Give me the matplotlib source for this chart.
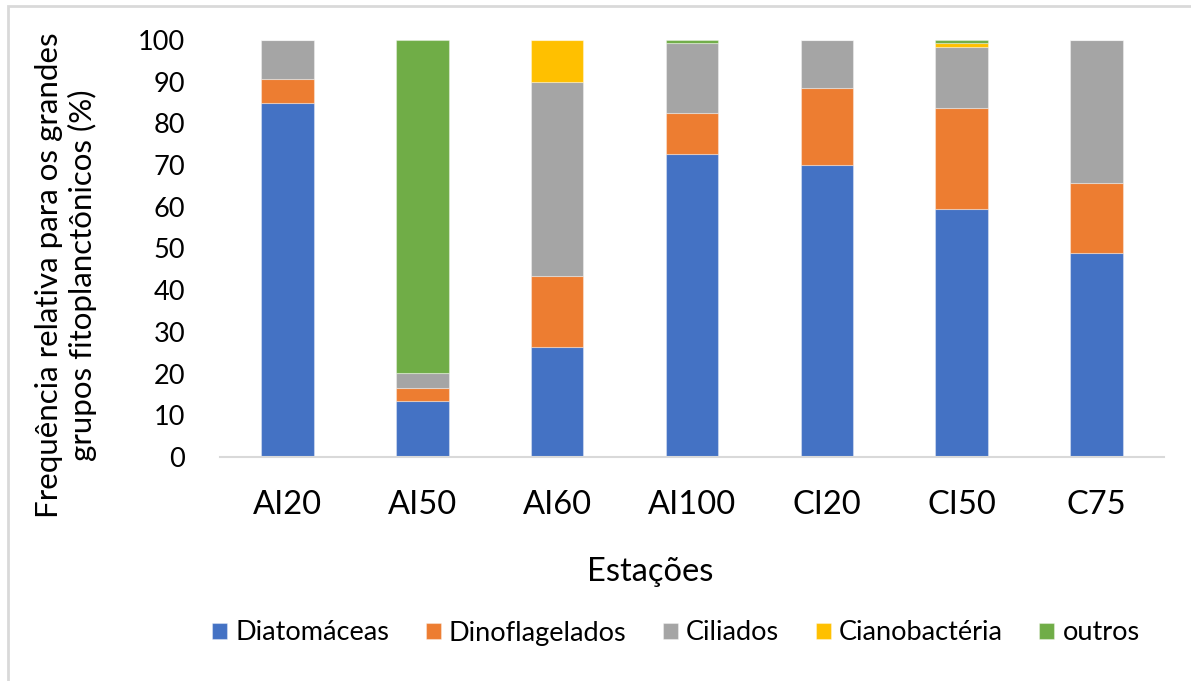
import numpy as np
import matplotlib.pyplot as plt
from matplotlib.patches import Rectangle

plt.rcParams['font.family'] = ['Lato', 'DejaVu Sans']

# dados (%)
estacoes = ['AI20', 'AI50', 'AI60', 'AI100', 'CI20', 'CI50', 'C75']
diatomaceas = [85.0, 13.4, 26.4, 72.6, 70.0, 59.4, 48.9]
dinoflagelados = [5.6, 3.1, 17.0, 9.9, 18.6, 24.4, 16.7]
ciliados = [9.4, 3.7, 46.6, 16.7, 11.4, 14.5, 34.4]
cianobacteria = [0.0, 0.0, 10.0, 0.0, 0.0, 0.9, 0.0]
outros = [0.0, 79.8, 0.0, 0.8, 0.0, 0.8, 0.0]

grupos = ['Diatomáceas', 'Dinoflagelados', 'Ciliados', 'Cianobactéria', 'outros']
series = [diatomaceas, dinoflagelados, ciliados, cianobacteria, outros]
cores = ['#4472C4', '#ED7D31', '#A5A5A5', '#FFC000', '#70AD47']

fig = plt.figure(figsize=(11.91, 6.81), dpi=100)
ax = fig.add_axes([220/1191, 1-457/681, (1164-220)/1191, (457-40)/681])

x = np.arange(len(estacoes))
base = np.zeros(len(estacoes))
for nome, vals, cor in zip(grupos, series, cores):
    ax.bar(x, vals, bottom=base, width=0.39, color=cor, label=nome,
           edgecolor=(1, 1, 1, 0.35), linewidth=0.8)
    base += np.array(vals)

ax.set_xlim(-0.5, 6.5)
ax.set_ylim(0, 100)
ax.set_yticks(range(0, 101, 10))
ax.set_xticks(x)
ax.set_xticklabels(estacoes, fontsize=23.5)
ax.tick_params(axis='y', labelsize=19.5, length=0, pad=25)
ax.tick_params(axis='x', length=0, pad=24)
for key, spine in ax.spines.items():
    spine.set_visible(False)
ax.spines['bottom'].set_visible(True)
ax.spines['bottom'].set_color('#d9d9d9')
ax.spines['bottom'].set_linewidth(1.5)

fig.text(66/1191, 1-275/681,
         'Frequência relativa para os grandes\ngrupos fitoplanctônicos (%)',
         rotation=90, ha='center', va='center', multialignment='center',
         fontsize=22.5, linespacing=1.2)
fig.text(650/1191, 1-572/681, 'Estações', ha='center', va='center', fontsize=23.5)

fig.legend(loc='center', bbox_to_anchor=(676/1191, 1-633/681), ncol=5,
           frameon=False, fontsize=19.5, handlelength=0.55, handleheight=0.55,
           handletextpad=0.3, columnspacing=1.35)

# moldura cinza da imagem original
fig.patches.append(Rectangle((8/1191, -0.1), 1.2, 1.1 - 6/681, transform=fig.transFigure,
                             fill=False, edgecolor='#d9d9d9', linewidth=2))

fig.savefig('out.png', dpi=100)
